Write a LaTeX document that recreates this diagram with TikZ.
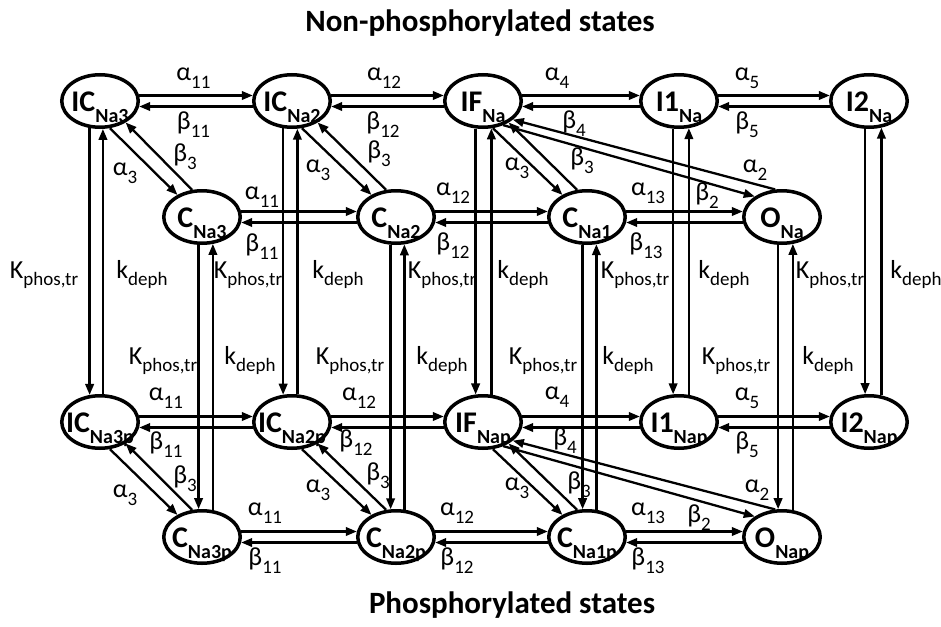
\documentclass[tikz,border=0pt]{standalone}
\usepackage{fontspec}
\setmainfont{Carlito}
\usetikzlibrary{arrows.meta,shapes.geometric}
\newcommand\ndtxt[2]{\raisebox{-10pt}[0pt][0pt]{\makebox[0pt][c]{\fontsize{30}{30}\selectfont\bfseries #1\raisebox{-11pt}{\fontsize{20}{20}\selectfont #2}}}}
\newcommand\lb[2]{{\fontsize{26}{26}\selectfont #1\raisebox{-8pt}{\fontsize{19}{19}\selectfont #2}}}
\newcommand\kl[2]{{\fontsize{26}{26}\selectfont #1\raisebox{-7pt}{\fontsize{19}{19}\selectfont #2}}}
\tikzset{
  st/.style={ellipse, draw, line width=3.5pt, minimum width=76.5pt, minimum height=52.5pt, inner sep=0pt},
  ar/.style={line width=2.3pt, -{Triangle[length=11pt,width=8.5pt]}},
  rl/.style={anchor=base, inner sep=0pt},
  ttl/.style={anchor=base, inner sep=0pt, font=\fontsize{31}{31}\selectfont\bfseries}
}
\begin{document}
\begin{tikzpicture}[x=1pt,y=-1pt]
\useasboundingbox (0,0) rectangle (941,626);
% titles
\node[ttl] (t1) at (480,32) {Non-phosphorylated states};
\node[ttl] (t2) at (512,613) {Phosphorylated states};
% states
\node[st] (IC3) at (100,101) {\ndtxt{IC}{Na3}};
\node[st] (IC2) at (292,101) {\ndtxt{IC}{Na2}};
\node[st] (IF)  at (483,101) {\ndtxt{IF}{Na}};
\node[st] (I1)  at (679,101) {\ndtxt{I1}{Na}};
\node[st] (I2)  at (869,101) {\ndtxt{I2}{Na}};
\node[st] (C3)  at (202,217) {\ndtxt{C}{Na3}};
\node[st] (C2)  at (396,217) {\ndtxt{C}{Na2}};
\node[st] (C1)  at (587,217) {\ndtxt{C}{Na1}};
\node[st] (O)   at (782,217) {\ndtxt{O}{Na}};
\node[st] (IC3p) at (100,422) {\ndtxt{IC}{Na3p}};
\node[st] (IC2p) at (292,422) {\ndtxt{IC}{Na2p}};
\node[st] (IFp)  at (483,422) {\ndtxt{IF}{Nap}};
\node[st] (I1p)  at (679,422) {\ndtxt{I1}{Nap}};
\node[st] (I2p)  at (869,422) {\ndtxt{I2}{Nap}};
\node[st] (C3p)  at (202,537) {\ndtxt{C}{Na3p}};
\node[st] (C2p)  at (396,537) {\ndtxt{C}{Na2p}};
\node[st] (C1p)  at (587,537) {\ndtxt{C}{Na1p}};
\node[st] (Op)   at (782,537) {\ndtxt{O}{Nap}};
% horizontal pairs
\foreach \a/\b in {IC3/IC2, IC2/IF, IF/I1, I1/I2, C3/C2, C2/C1, C1/O,
                   IC3p/IC2p, IC2p/IFp, IFp/I1p, I1p/I2p, C3p/C2p, C2p/C1p, C1p/Op}{
  \draw[ar] (\a.8) -- (\b.172);
  \draw[ar] (\b.-172) -- (\a.-8);
}
% vertical pairs
\draw[ar] (IC3.-111) -- (IC3p.111);  \draw[ar] (IC3p.84) -- (IC3.-84);
\draw[ar] (IC2.-108) -- (IC2p.108);  \draw[ar] (IC2p.79) -- (IC2.-79);
\draw[ar] (IF.-105) -- (IFp.105);    \draw[ar] (IFp.73) -- (IF.-73);
\draw[ar] (I1.-102.5) -- (I1p.102.5); \draw[ar] (I1p.70) -- (I1.-70);
\draw[ar] (I2.-98) -- (I2p.98);      \draw[ar] (I2p.65) -- (I2.-65);
\draw[ar] (C3.-97) -- (C3p.97);      \draw[ar] (C3p.68) -- (C3.-68);
\draw[ar] (C2.-101.5) -- (C2p.101.5); \draw[ar] (C2p.73) -- (C2.-73);
\draw[ar] (C1.-99.6) -- (C1p.99.6);  \draw[ar] (C1p.71) -- (C1.-71);
\draw[ar] (O.-98.7) -- (Op.98.7);    \draw[ar] (Op.68) -- (O.-68);
% diagonals
\foreach \a/\b in {IC3/C3, IC2/C2, IF/C1, IC3p/C3p, IC2p/C2p, IFp/C1p}{
  \draw[ar] (\a.-70) -- (\b.138);
  \draw[ar] (\b.110) -- (\a.-40);
}
\draw[ar] (O.104) -- (IF.-32);
\draw[ar] (IF.-50) -- (O.143);
\draw[ar] (Op.104) -- (IFp.-32);
\draw[ar] (IFp.-50) -- (Op.143);
% rate labels, row 1
\node[rl] (r1) at (193.5,80) {\lb{α}{11}};
\node[rl] (r2) at (193.5,129) {\lb{β}{11}};
\node[rl] (r3) at (384,80) {\lb{α}{12}};
\node[rl] (r4) at (383,129) {\lb{β}{12}};
\node[rl] (r5) at (557,80) {\lb{α}{4}};
\node[rl] (r6) at (574,128) {\lb{β}{4}};
\node[rl] (r7) at (747,80) {\lb{α}{5}};
\node[rl] (r8) at (747,129) {\lb{β}{5}};
% row 1-2 diagonals and row 2
\node[rl] (r9) at (125,175) {\lb{α}{3}};
\node[rl] (r10) at (185,161) {\lb{β}{3}};
\node[rl] (r11) at (318,172) {\lb{α}{3}};
\node[rl] (r12) at (379,158) {\lb{β}{3}};
\node[rl] (r13) at (517,170) {\lb{α}{3}};
\node[rl] (r14) at (582,165) {\lb{β}{3}};
\node[rl] (r15) at (262,199) {\lb{α}{11}};
\node[rl] (r16) at (262,251) {\lb{β}{11}};
\node[rl] (r17) at (453,195) {\lb{α}{12}};
\node[rl] (r18) at (453,250) {\lb{β}{12}};
\node[rl] (r19) at (648,195) {\lb{α}{13}};
\node[rl] (r20) at (646,250) {\lb{β}{13}};
\node[rl] (r21) at (707,200) {\lb{β}{2}};
\node[rl] (r22) at (755,172) {\lb{α}{2}};
% row 3
\node[rl] (r23) at (166,400) {\lb{α}{11}};
\node[rl] (r24) at (166,449) {\lb{β}{11}};
\node[rl] (r25) at (359,400) {\lb{α}{12}};
\node[rl] (r26) at (356,447) {\lb{β}{12}};
\node[rl] (r27) at (557,399) {\lb{α}{4}};
\node[rl] (r28) at (565,445) {\lb{β}{4}};
\node[rl] (r29) at (747,400) {\lb{α}{5}};
\node[rl] (r30) at (747,449) {\lb{β}{5}};
% row 3-4 diagonals and row 4
\node[rl] (r31) at (125,497) {\lb{α}{3}};
\node[rl] (r32) at (185,483) {\lb{β}{3}};
\node[rl] (r33) at (318,492) {\lb{α}{3}};
\node[rl] (r34) at (378,480) {\lb{β}{3}};
\node[rl] (r35) at (517,490) {\lb{α}{3}};
\node[rl] (r36) at (579,489) {\lb{β}{3}};
\node[rl] (r37) at (757,492) {\lb{α}{2}};
\node[rl] (r38) at (699,522) {\lb{β}{2}};
\node[rl] (r39) at (265,515) {\lb{α}{11}};
\node[rl] (r40) at (265,565) {\lb{β}{11}};
\node[rl] (r41) at (457,515) {\lb{α}{12}};
\node[rl] (r42) at (457,565) {\lb{β}{12}};
\node[rl] (r43) at (648,515) {\lb{α}{13}};
\node[rl] (r44) at (648,565) {\lb{β}{13}};
% phosphorylation labels
\node[rl] (k1) at (44,278) {\kl{K}{phos,tr}};
\node[rl] (k2) at (142,278) {\kl{k}{deph}};
\node[rl] (k3) at (248,278) {\kl{K}{phos,tr}};
\node[rl] (k4) at (338,278) {\kl{k}{deph}};
\node[rl] (k5) at (442,278) {\kl{K}{phos,tr}};
\node[rl] (k6) at (523,278) {\kl{k}{deph}};
\node[rl] (k7) at (635,278) {\kl{K}{phos,tr}};
\node[rl] (k8) at (724,278) {\kl{k}{deph}};
\node[rl] (k9) at (830,278) {\kl{K}{phos,tr}};
\node[rl] (k10) at (916,278) {\kl{k}{deph}};
\node[rl] (k11) at (163,364) {\kl{K}{phos,tr}};
\node[rl] (k12) at (250,364) {\kl{k}{deph}};
\node[rl] (k13) at (350,364) {\kl{K}{phos,tr}};
\node[rl] (k14) at (442,364) {\kl{k}{deph}};
\node[rl] (k15) at (543,364) {\kl{K}{phos,tr}};
\node[rl] (k16) at (628,364) {\kl{k}{deph}};
\node[rl] (k17) at (736,364) {\kl{K}{phos,tr}};
\node[rl] (k18) at (828,364) {\kl{k}{deph}};
\end{tikzpicture}
\end{document}
